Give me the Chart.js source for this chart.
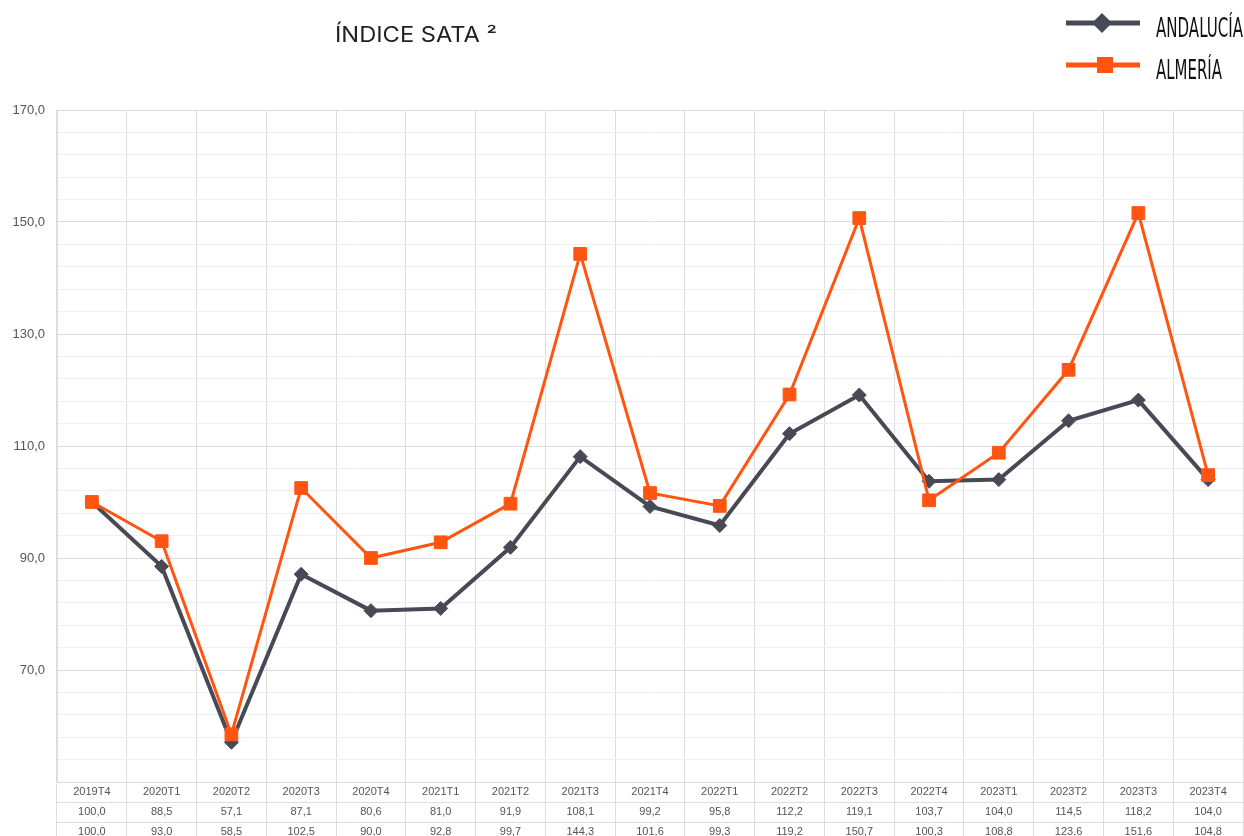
<!DOCTYPE html>
<html>
<head>
<meta charset="utf-8">
<script src="https://cdn.jsdelivr.net/npm/chart.js@4/dist/chart.umd.min.js"></script>
<style>
  html, body { margin: 0; padding: 0; background: #fff; }
  #wrap { width: 1244px; height: 836px; }
</style>
</head>
<body>
<div id="wrap"><canvas id="chart"></canvas></div>
<script>
// quarters shown on the x axis (and first row of the table)
const quarters = ["2019T4", "2020T1", "2020T2", "2020T3", "2020T4", "2021T1", "2021T2", "2021T3", "2021T4",
    "2022T1", "2022T2", "2022T3", "2022T4", "2023T1", "2023T2", "2023T3", "2023T4"];

// index values per territory
const andalucia = [100.0, 88.5, 57.1, 87.1, 80.6, 81.0, 91.9, 108.1, 99.2, 95.8, 112.2, 119.1, 103.7, 104.0, 114.5, 118.2, 104.0];
const almeria = [100.0, 93.0, 58.5, 102.5, 90.0, 92.8, 99.7, 144.3, 101.6, 99.3, 119.2, 150.7, 100.3, 108.8, 123.6, 151.6, 104.8];

// y labels that are printed (the other gridlines are minor)
const yLabels = [70, 90, 110, 130, 150, 170];

const chartTitle = "ÍNDICE SATA ²";

// spanish style number: 100,0
const fmt = v => v.toFixed(1).replace(".", ",");

// draws text squeezed/stretched to a given width
function fitText(ctx, text, x, y, width) {
    const w = ctx.measureText(text).width;
    ctx.save();
    ctx.translate(x, y);
    ctx.scale(width / w, 1);
    ctx.fillText(text, 0, 0);
    ctx.restore();
}

// title + legend in the top part, table lines at the bottom
const extrasPlugin = {
    id: "extras",
    afterDraw(chart) {
        const ctx = chart.ctx;
        const area = chart.chartArea;
        ctx.save();

        // table row separators
        ctx.strokeStyle = "#dedede";
        ctx.lineWidth = 1;
        for (let r = 1; r <= 2; r++) {
            const y = Math.round(area.bottom + r * 20) + 0.5;
            ctx.beginPath();
            ctx.moveTo(area.left, y);
            ctx.lineTo(area.right, y);
            ctx.stroke();
        }

        // title
        ctx.fillStyle = "#222";
        ctx.font = "21px Inter";
        ctx.textBaseline = "alphabetic";
        ctx.textAlign = "left";
        fitText(ctx, chartTitle, 335, 42, 162);

        // legend
        const rowsY = [23, 65];
        chart.data.datasets.forEach((ds, i) => {
            const y = rowsY[i];
            ctx.strokeStyle = ds.borderColor;
            ctx.lineWidth = 5;
            ctx.beginPath();
            ctx.moveTo(1066, y);
            ctx.lineTo(1140, y);
            ctx.stroke();
            ctx.fillStyle = ds.borderColor;
            ctx.beginPath();
            if (ds.pointStyle === "rectRot") {
                ctx.moveTo(1102, y - 10);
                ctx.lineTo(1112, y);
                ctx.lineTo(1102, y + 10);
                ctx.lineTo(1092, y);
                ctx.closePath();
            } else {
                ctx.rect(1097, y - 8, 16, 16);
            }
            ctx.fill();

            ctx.font = "26px 'DejaVu Sans Condensed'";
            ctx.fillStyle = "#111";
            fitText(ctx, ds.label, 1156, y + 14, i === 0 ? 87 : 66);
        });

        ctx.restore();
    }
};

new Chart(
    document.getElementById("chart"),
    {
        type: "line",
        data: {
            labels: quarters,
            datasets: [
                {
                    label: "ANDALUCÍA",
                    data: andalucia,
                    borderColor: "#474a55",
                    backgroundColor: "#474a55",
                    borderWidth: 4,
                    pointStyle: "rectRot",
                    pointRadius: 7,
                    pointBorderWidth: 1,
                    order: 1
                },
                {
                    label: "ALMERÍA",
                    data: almeria,
                    borderColor: "#ff5510",
                    backgroundColor: "#ff5510",
                    borderWidth: 3,
                    pointStyle: "rect",
                    pointRadius: 9,
                    pointBorderWidth: 1,
                    order: 0
                }
            ]
        },
        options: {
            responsive: true,
            maintainAspectRatio: false,
            animation: false,
            layout: { autoPadding: false, padding: { top: 110, right: 1, left: 0, bottom: 0 } },
            plugins: {
                legend: { display: false },
                title: { display: false },
                tooltip: { enabled: false }
            },
            scales: {
                x: {
                    offset: true,
                    afterFit: (scale) => {
                        scale.height = 54;
                        scale.paddingLeft = 0;
                        scale.paddingRight = 0;
                    },
                    grid: {
                        offset: true,
                        color: "#dedede",
                        tickLength: 60,
                        tickColor: "#dedede"
                    },
                    border: { color: "#dedede" },
                    ticks: {
                        autoSkip: false,
                        maxRotation: 0,
                        padding: -60,
                        color: "#555",
                        font: { family: "'Liberation Sans', Arial", size: 11, lineHeight: "20px" },
                        callback: (value, i) => [quarters[i], fmt(andalucia[i]), fmt(almeria[i])]
                    }
                },
                y: {
                    min: 50,
                    max: 170,
                    afterFit: (scale) => { scale.width = 57; },
                    grid: {
                        drawTicks: false,
                        color: (c) => yLabels.includes(c.tick.value) ? "#dcdcdc" : "#efefef"
                    },
                    border: { color: "#dcdcdc" },
                    ticks: {
                        stepSize: 4,
                        padding: 12,
                        color: "#555",
                        font: { family: "'Liberation Sans', Arial", size: 13 },
                        callback: (v) => yLabels.includes(v) ? fmt(v) : ""
                    }
                }
            }
        },
        plugins: [extrasPlugin]
    }
);
</script>
</body>
</html>
